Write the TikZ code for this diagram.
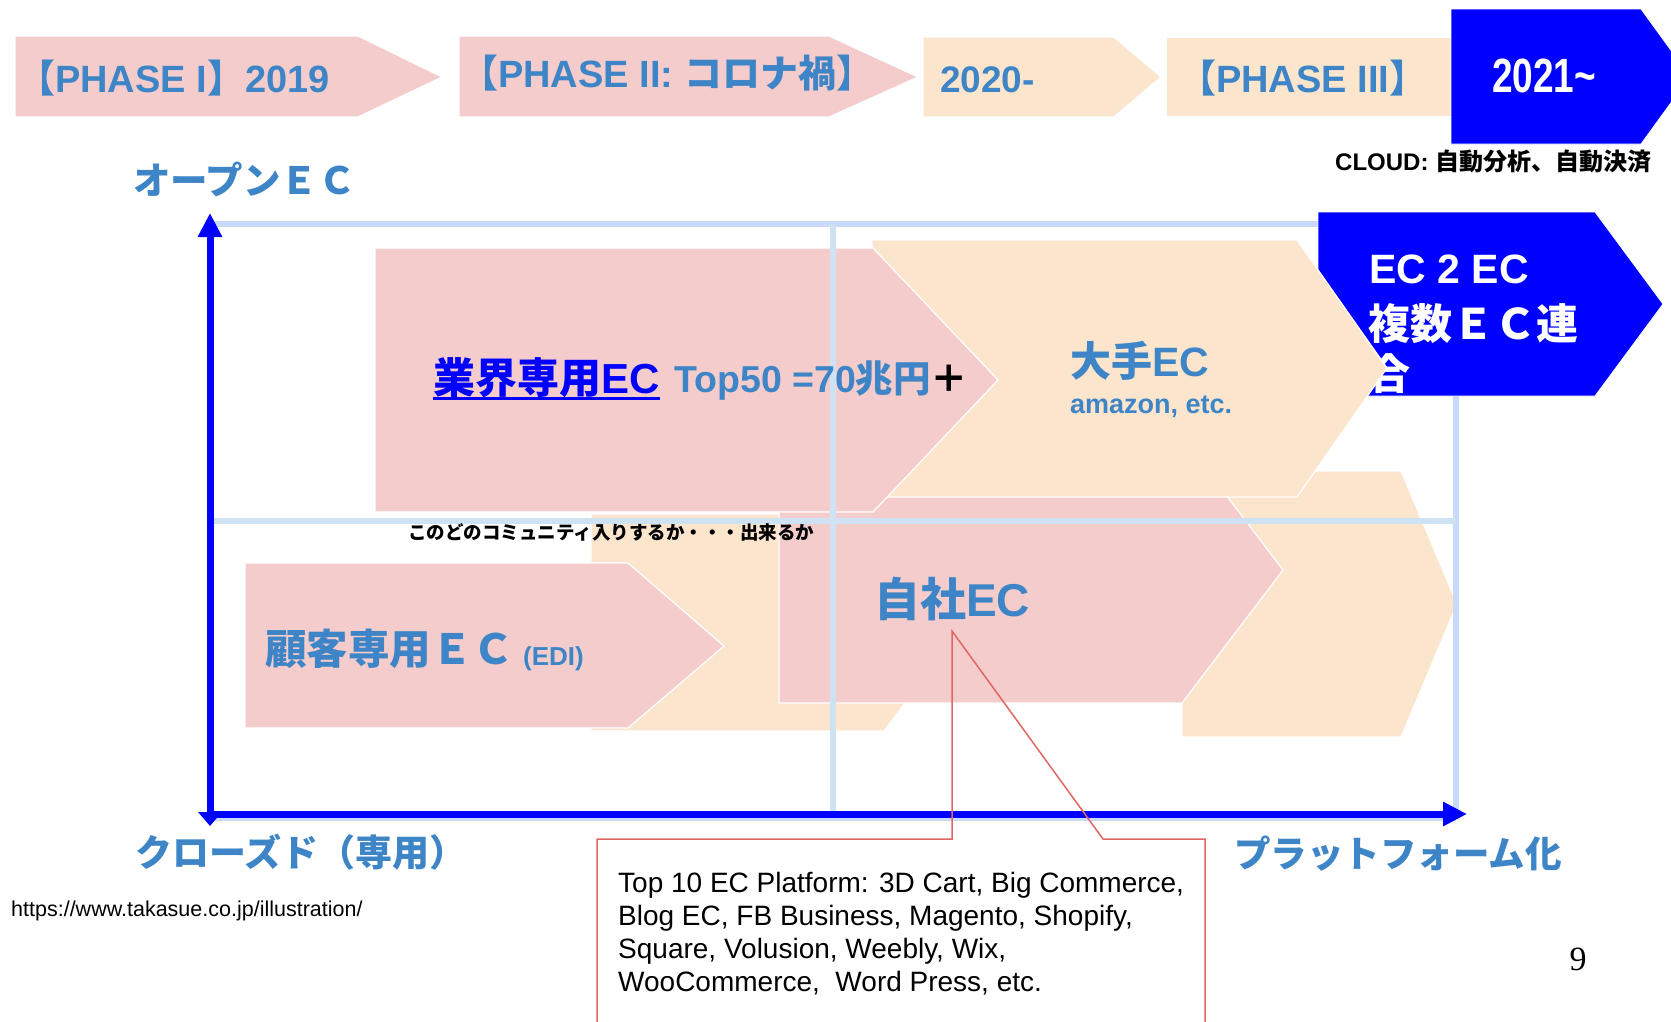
\documentclass[tikz,border=0pt]{standalone}
\usepackage{fontspec}
\usepackage{graphicx}
\setmainfont{Liberation Sans}
\newfontfamily\jp{Noto Sans CJK JP}
\newfontfamily\serifnum{Liberation Serif}
\usetikzlibrary{arrows.meta}
\definecolor{pinkc}{HTML}{F4CCCC}
\definecolor{peachc}{HTML}{FCE5CD}
\definecolor{tblue}{HTML}{3D85C6}
\definecolor{gridc}{HTML}{C9DAF8}
\definecolor{gridm}{HTML}{CFE2F3}
\definecolor{callc}{HTML}{E06666}
\definecolor{pureblue}{HTML}{0000FF}
\newcommand\jt[1]{{\jp #1}}
\newcommand\fsz[1]{\fontsize{#1}{#1}\selectfont}
\begin{document}
\begin{tikzpicture}[x=1pt,y=-1pt,
  pinkshape/.style={fill=pinkc, draw=white, line width=1.2pt},
  peachshape/.style={fill=peachc, draw=white, line width=1.2pt},
  blueshape/.style={fill=pureblue, draw=white, line width=0.8pt},
  lbl/.style={inner sep=0pt, anchor=base west, font=\bfseries},
  frameline/.style={draw=gridc, line width=5.5pt},
  midline/.style={draw=gridm, line width=5.5pt},
  axis/.style={draw=pureblue, line width=7pt, -{Triangle[length=24pt,width=23pt]}},
  callout/.style={draw=callc, line width=1.5pt}]
\useasboundingbox (0,0) rectangle (1671,1021);
\fill[white] (0,0) rectangle (1671,1021);

% ---- top row of phases ----
\path[pinkshape] (15,36) -- (358,36) -- (442,77) -- (358,117) -- (15,117) -- cycle;
\path[pinkshape] (459,36) -- (829,36) -- (918,77) -- (829,117) -- (459,117) -- cycle;
\path[peachshape] (923,37) -- (1114,37) -- (1161,77) -- (1114,117) -- (923,117) -- cycle;
\path[peachshape] (1166,37) -- (1458,37) -- (1458,117) -- (1166,117) -- cycle;
\path[blueshape] (1451,9) -- (1641,9) -- (1690,76.5) -- (1641,144) -- (1451,144) -- cycle;

\node[lbl, text=tblue, font=\bfseries\fsz{38}] (p1) at (17,92) {\jt{【}PHASE I\jt{】}2019};
\node[lbl, text=tblue, font=\bfseries\fsz{38}] (p2) at (460,87) {\jt{【}PHASE II: \jt{コロナ禍】}};
\node[lbl, text=tblue, font=\bfseries\fsz{37}] (p3) at (940,92) {2020-};
\node[lbl, text=tblue, font=\bfseries\fsz{38}] (p4) at (1178,92) {\jt{【}PHASE III\jt{】}};
\node[lbl, text=white, font=\bfseries\fsz{37}] (p5) at (1492,92) {\scalebox{1}[1.3]{2021\textasciitilde}};
\node[lbl, text=black, font=\bfseries\fsz{24}] (cloud) at (1335,170) {CLOUD: \jt{自動分析、自動決済}};

% ---- lower layer shapes ----
\path[peachshape] (1182,471) -- (1401,471) -- (1457,604) -- (1401,737) -- (1182,737) -- cycle;
\path[peachshape] (591,514) -- (884,514) -- (966,622) -- (884,731) -- (591,731) -- cycle;

% frame lines
\draw[frameline] (210,224) -- (1456,224);
\draw[frameline] (1456,224) -- (1456,818);
\draw[frameline] (210,818) -- (1456,818);

% EC 2 EC box
\path[blueshape] (1318,212) -- (1595,212) -- (1663,304) -- (1595,396) -- (1318,396) -- cycle;
\node[lbl, text=white, font=\bfseries\fsz{41}] (e1) at (1369,283) {EC 2 EC};
\node[lbl, text=white, font=\bfseries\fsz{42}] (e2) at (1368,339) {\jt{複数ＥＣ連}};
\node[lbl, text=white, font=\bfseries\fsz{42}] (e3) at (1368,389) {\jt{合}};

% jisha pink
\path[pinkshape] (779,437) -- (1182,437) -- (1283,570) -- (1182,703) -- (779,703) -- cycle;
% ohte peach
\path[peachshape] (872,240) -- (1297,240) -- (1387,368) -- (1297,497) -- (872,497) -- cycle;
\node[lbl, text=tblue, font=\bfseries\fsz{41}] (ohte) at (1070,376) {\jt{大手}EC};
\node[lbl, text=tblue, font=\bfseries\fsz{27}] (amz) at (1070,413) {amazon, etc.};
% gyokai pink
\path[pinkshape] (375,248) -- (873,248) -- (998,380) -- (873,512) -- (375,512) -- cycle;
% kokyaku pink
\path[pinkshape] (245,563) -- (628,563) -- (724,646) -- (628,728) -- (245,728) -- cycle;

% middle lines
\draw[midline] (833,224) -- (833,818);
\draw[midline] (213,521) -- (1456,521);

% axes
\draw[draw=pureblue, line width=7pt, {Triangle[length=14pt,width=23pt]}-{Triangle[length=24pt,width=23pt]}] (210,826) -- (210,213);
\draw[axis] (207,814) -- (1467,814);

% texts
\node[lbl, text=pureblue, font=\bfseries\fsz{42}] (gyokai) at (433,393) {\jt{業界専用}EC};
\draw[pureblue, line width=3pt] ([yshift=-5pt]gyokai.base west) -- ([yshift=-5pt]gyokai.base east);
\node[lbl, text=tblue, font=\bfseries\fsz{37.5}] (top50) at (674,392) {Top50 =70\jt{兆円}\textcolor{black}{\jt{＋}}};
\node[lbl, text=tblue, font=\bfseries\fsz{41.5}] (kokyaku) at (265,664) {\jt{顧客専用ＥＣ}};
\node[lbl, text=tblue, font=\bfseries\fsz{26}] (edi) at (523,665) {(EDI)};
\node[lbl, text=tblue, font=\bfseries\fsz{46}] (jisha) at (874,616) {\jt{自社}EC};
\node[lbl, text=black, font=\bfseries\fsz{18.5}] (community) at (408,539) {\jt{このどのコミュニティ入りするか・・・出来るか}};

\node[lbl, text=tblue, font=\bfseries\fsz{37.5}] (open) at (133,194) {\jt{オープンＥＣ}};
\node[lbl, text=tblue, font=\bfseries\fsz{37}] (closed) at (135,866) {\jt{クローズド（専用）}};
\node[lbl, text=tblue, font=\bfseries\fsz{36.5}] (platform) at (1234,867) {\jt{プラットフォーム化}};

\node[lbl, text=black, font=\fsz{21.5}] (url) at (11,916) {https://www.takasue.co.jp/illustration/};
\node[inner sep=0pt, anchor=base, font=\serifnum\fsz{34}] (pagenum) at (1578,970) {9};

% callout
\draw[callout] (597,1040) -- (597,839) -- (952,839) -- (952,631) -- (1103,839) -- (1205,839) -- (1205,1040);
\node[inner sep=0pt, anchor=north west, align=left, font=\fontsize{28}{33}\selectfont] (platforms) at (618,872)
  {Top 10 EC Platform: 3D Cart, Big Commerce,\\Blog EC, FB Business, Magento, Shopify,\\Square, Volusion, Weebly, Wix,\\WooCommerce,\ \ Word Press, etc.};
\end{tikzpicture}
\end{document}
